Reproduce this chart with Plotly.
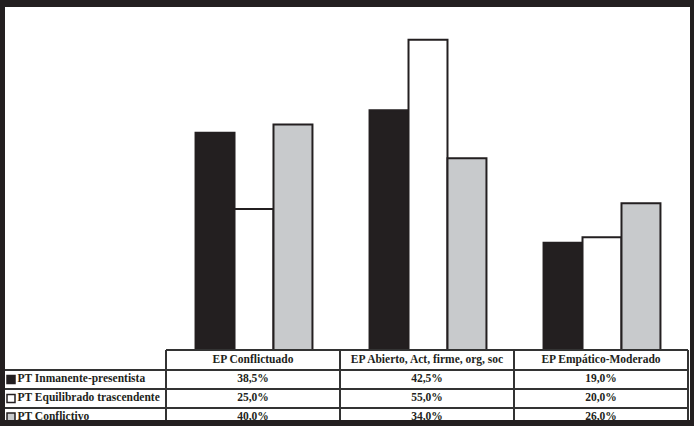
import plotly.graph_objects as go

categories = ["EP Conflictuado", "EP Abierto, Act, firme, org, soc", "EP Empático-Moderado"]
series_names = ["PT Inmanente-presentista", "PT Equilibrado trascendente", "PT Conflictivo"]
inmanente = [38.5, 42.5, 19.0]
equilibrado = [25.0, 55.0, 20.0]
conflictivo = [40.0, 34.0, 26.0]

W, H = 694, 426
DARK = "#231f20"
GRAY = "#c8cacc"
colors = [DARK, "#ffffff", GRAY]
series = [inmanente, equilibrado, conflictivo]

# layout in pixels
tab_left, tab_right = 166, 688
base_y = 350
row_lines = [350, 370, 389, 408]
px_per_unit = 5.64
y_max = 60

fig = go.Figure()
for name, vals, col in zip(series_names, series, colors):
    fig.add_trace(go.Bar(x=categories, y=vals, name=name, marker=dict(color=col, line=dict(color=DARK, width=2)),
                         xaxis="x", yaxis="y", showlegend=False))

fmt = lambda v: f"{v:.1f}%".replace(".", ",")
col_w = (tab_right - tab_left) / len(categories)
col_centers = [tab_left + col_w * (i + 0.5) for i in range(len(categories))]
font = dict(family="Liberation Serif", size=11.5, color=DARK)

# header texts
fig.add_trace(go.Scatter(x=col_centers, y=[(row_lines[0] + row_lines[1]) / 2] * 3, text=[f"<b>{c}</b>" for c in categories],
                         mode="text", textposition="middle center", textfont=font, xaxis="x2", yaxis="y2",
                         showlegend=False, hoverinfo="skip", cliponaxis=False))
row_centers = [(row_lines[1] + row_lines[2]) / 2, (row_lines[2] + row_lines[3]) / 2, row_lines[3] + 9]
for rc, name, vals, col in zip(row_centers, series_names, series, colors):
    fig.add_trace(go.Scatter(x=col_centers, y=[rc] * 3, text=[f"<b>{fmt(v)}</b>" for v in vals],
                             mode="text", textposition="middle center", textfont=font, xaxis="x2", yaxis="y2",
                             showlegend=False, hoverinfo="skip", cliponaxis=False))
    fig.add_trace(go.Scatter(x=[11], y=[rc], mode="markers", marker=dict(symbol="square", size=8, color=col,
                             line=dict(color=DARK, width=1.5)), xaxis="x2", yaxis="y2", showlegend=False, hoverinfo="skip"))
    fig.add_trace(go.Scatter(x=[17.5], y=[rc], text=[f"<b>{name}</b>"], mode="text", textposition="middle right",
                             textfont=font, xaxis="x2", yaxis="y2", showlegend=False, hoverinfo="skip", cliponaxis=False))

shapes = []
line = dict(color="#333333", width=2)
# horizontal table lines
shapes.append(dict(type="line", xref="x2", yref="y2", x0=tab_left, x1=tab_right, y0=row_lines[0], y1=row_lines[0], line=line))
for ry in row_lines[1:]:
    shapes.append(dict(type="line", xref="x2", yref="y2", x0=4, x1=tab_right, y0=ry, y1=ry, line=line))
# vertical lines
for i in range(len(categories) + 1):
    xv = tab_left + col_w * i
    shapes.append(dict(type="line", xref="x2", yref="y2", x0=xv, x1=xv, y0=row_lines[0], y1=H, line=line))
# frame
fr = dict(type="rect", xref="x2", yref="y2", fillcolor=DARK, line=dict(width=0), layer="above")
shapes.append(dict(fr, x0=0, x1=5, y0=0, y1=H))
shapes.append(dict(fr, x0=0, x1=W, y0=0, y1=7))
shapes.append(dict(fr, x0=690, x1=W, y0=0, y1=H))
shapes.append(dict(fr, x0=0, x1=W, y0=420, y1=H))

fig.update_layout(
    width=W, height=H, margin=dict(l=0, r=0, t=0, b=0),
    paper_bgcolor="white", plot_bgcolor="rgba(0,0,0,0)",
    barmode="group", bargap=0.328, bargroupgap=0,
    xaxis=dict(domain=[(tab_left + 1) / W, (tab_right + 1) / W], showticklabels=False, showgrid=False, zeroline=False,
               showline=False, anchor="y"),
    yaxis=dict(domain=[1 - base_y / H, 1 - (base_y - px_per_unit * y_max) / H], range=[0, y_max],
               showticklabels=False, showgrid=False, zeroline=False, showline=False, anchor="x"),
    xaxis2=dict(domain=[0, 1], range=[0, W], visible=False, anchor="y2"),
    yaxis2=dict(domain=[0, 1], range=[H, 0], visible=False, anchor="x2"),
    shapes=shapes,
)
fig.write_html("out.html", config={"displayModeBar": False},
               post_script="document.body.style.margin='0px';document.body.style.overflow='hidden';")
